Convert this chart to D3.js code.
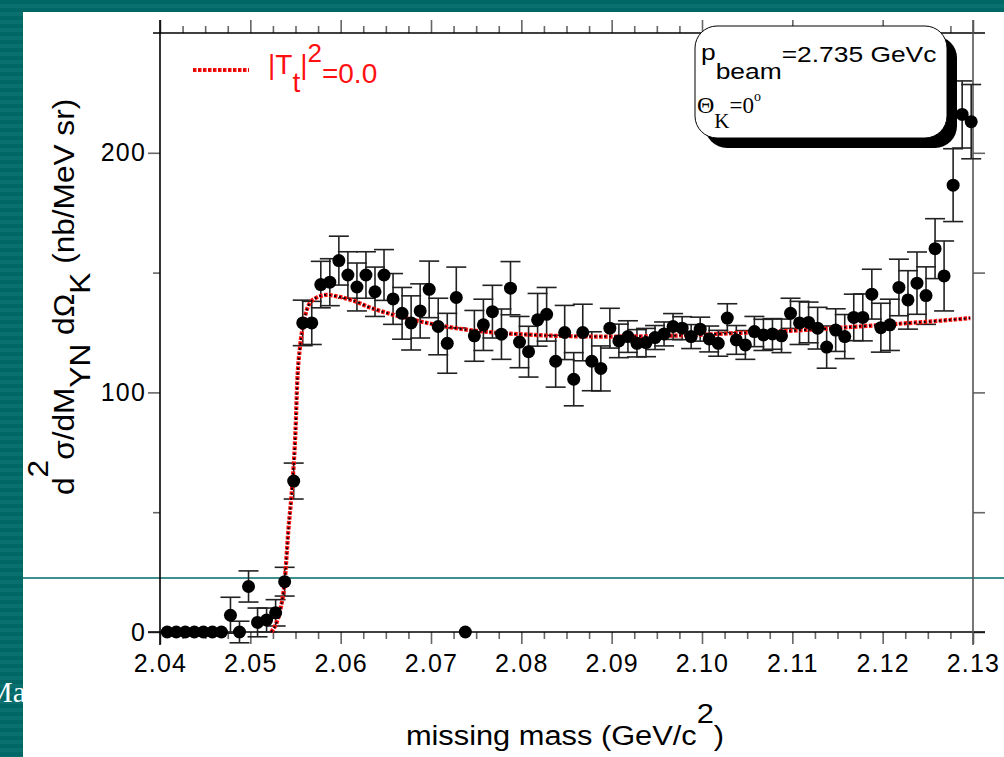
<!DOCTYPE html>
<html>
  <head>
    <script type="text/javascript" src="https://cdn.jsdelivr.net/npm/d3@7/dist/d3.min.js"></script>
    <style>
      body { margin: 0; background: #fff; }
      text { font-family: "Liberation Sans", Arial, sans-serif; }
    </style>
  </head>
  <body>
    <div id="viz"></div>
    <script type="text/javascript">
      // measured spectrum: bin centre (GeV/c2), cross section, error
      const mass = [
        2.0408, 2.0418, 2.0428, 2.0438, 2.0448, 2.0458, 2.0468, 2.0478, 2.0488, 2.0498,
        2.0508, 2.0518, 2.0528, 2.0538, 2.0548, 2.0558, 2.0568, 2.0578, 2.0588, 2.0598,
        2.0608, 2.0618, 2.0628, 2.0638, 2.0648, 2.0658, 2.0668, 2.0678, 2.0688, 2.0698,
        2.0708, 2.0718, 2.0728, 2.0738, 2.0748, 2.0758, 2.0768, 2.0778, 2.0788, 2.0798,
        2.0808, 2.0818, 2.0828, 2.0838, 2.0848, 2.0858, 2.0868, 2.0878, 2.0888, 2.0898,
        2.0908, 2.0918, 2.0928, 2.0938, 2.0948, 2.0958, 2.0968, 2.0978, 2.0988, 2.0998,
        2.1008, 2.1018, 2.1028, 2.1038, 2.1048, 2.1058, 2.1068, 2.1078, 2.1088, 2.1098,
        2.1108, 2.1118, 2.1128, 2.1138, 2.1148, 2.1158, 2.1168, 2.1178, 2.1188, 2.1198,
        2.1208, 2.1218, 2.1228, 2.1238, 2.1248, 2.1258, 2.1268, 2.1278, 2.1288, 2.1298
      ];
      const xsec = [
        0, 0, 0, 0, 0, 0, 0, 7, 0, 19,
        4, 5, 8, 21, 63, 129, 129, 145, 146, 155,
        149, 144, 149, 142, 149, 139, 133, 129, 134, 143,
        127.5, 120.5, 139.6, 0, 123.6, 128.2, 133.7, 124.3, 143.5, 121,
        117, 130.3, 132.6, 113, 125, 105.5, 125, 113, 110, 126.8,
        121.5, 123.3, 120.5, 120.8, 122.9, 124.4, 127.5, 126.8, 123.3, 126.4,
        122.3, 120.5, 131, 121.9, 119.8, 125.4, 124, 124.4, 123.6, 133,
        129, 129.2, 126.8, 118.9, 126, 123.3, 131.3, 131.3, 141, 127,
        128.2, 143.8, 138.6, 145.6, 140.4, 160, 148.6, 186.5, 216, 213
      ];
      const xsecErr = [
        0, 0, 0, 0, 0, 0, 0, 7.5, 4.5, 6.5,
        6, 5, 5.5, 6, 7.5, 9.5, 9, 9.7, 9.8, 10.2,
        9.7, 10, 9.7, 10.3, 10.6, 10.6, 10.8, 11.3, 11.3, 11.8,
        11.8, 12.5, 12.7, 0, 10.6, 10.7, 11, 10.5, 11.1, 10.7,
        10.6, 11, 11.2, 10.8, 11.3, 11.1, 11.8, 12.3, 9.4, 8.3,
        7, 6.6, 5.7, 5.9, 5, 5, 5.4, 4.8, 5, 5,
        5.4, 5.4, 6, 6, 6, 6.3, 6.5, 6.4, 7, 6.3,
        9, 8.5, 8.7, 8.8, 8.9, 9.2, 9.7, 9.8, 10.4, 10.2,
        10.7, 11.8, 12.2, 13, 12, 12.5, 14.6, 15.2, 14, 15.5
      ];

      // calculation, |Tt|^2 = 0.0
      const fitMass = [
        2.0523, 2.0528, 2.0533, 2.0538, 2.0542, 2.0547, 2.0550, 2.0552, 2.0555, 2.0559,
        2.0564, 2.0572, 2.0585, 2.0597, 2.0614, 2.0632, 2.0662, 2.0680, 2.0706, 2.0743,
        2.0780, 2.0813, 2.0887, 2.0961, 2.1053, 2.1097, 2.1153, 2.1208, 2.1263, 2.1297
      ];
      const fitValue = [
        0, 3, 9, 21, 42, 64, 84, 105, 119, 129,
        136, 139.3, 140.7, 140, 138.3, 135.5, 132, 130.3, 128.2, 126,
        124.7, 124, 123.3, 123.6, 125, 125.7, 127, 128.4, 129.9, 131
      ];

      const xMajor = [2.04, 2.05, 2.06, 2.07, 2.08, 2.09, 2.10, 2.11, 2.12, 2.13];
      const xLabels = ["2.04", "2.05", "2.06", "2.07", "2.08", "2.09", "2.10", "2.11", "2.12", "2.13"];
      const xMinor = [
        2.0425, 2.045, 2.0475, 2.0525, 2.055, 2.0575, 2.0625, 2.065, 2.0675,
        2.0725, 2.075, 2.0775, 2.0825, 2.085, 2.0875, 2.0925, 2.095, 2.0975,
        2.1025, 2.105, 2.1075, 2.1125, 2.115, 2.1175, 2.1225, 2.125, 2.1275
      ];
      const yMajor = [0, 100, 200];
      const yLabels = ["0", "100", "200"];
      const yMinor = [50, 150];

      const width = 1004, height = 757;
      const pLeft = 160, pRight = 973, pTop = 33, pBottom = 632;

      const svg = d3.select("#viz")
        .append("svg")
        .attr("width", width)
        .attr("height", height);

      // slide background
      const pat = svg.append("defs")
        .append("pattern")
        .attr("id", "stripes")
        .attr("patternUnits", "userSpaceOnUse")
        .attr("width", 8)
        .attr("height", 8);
      pat.append("rect").attr("width", 8).attr("height", 8).attr("fill", "#006767");
      pat.append("rect").attr("y", 4).attr("width", 8).attr("height", 4).attr("fill", "#0a6f6f");

      svg.append("rect").attr("width", width).attr("height", height).attr("fill", "url(#stripes)");
      svg.append("text")
        .attr("x", -14).attr("y", 702)
        .attr("fill", "#fff")
        .style("font-family", "'Liberation Serif', 'Times New Roman', serif")
        .style("font-size", "30px")
        .text("Ma");
      svg.append("rect").attr("x", 23).attr("y", 12).attr("width", width - 23).attr("height", height - 12).attr("fill", "#fff");
      svg.append("line")
        .attr("x1", 23).attr("x2", width).attr("y1", 578).attr("y2", 578)
        .attr("stroke", "#006a6a").attr("stroke-width", 1.3);

      const x = d3.scaleLinear().domain([2.04, 2.13]).range([pLeft, pRight]);
      const y = d3.scaleLinear().domain([0, 250]).range([pBottom, pTop]);

      function styleAxis(g){
        g.select(".domain").remove();
        g.selectAll(".tick line").attr("stroke", "#666").attr("stroke-width", 1.6);
        g.selectAll(".tick text")
          .attr("fill", "#000")
          .style("font-family", "'Liberation Sans', Arial, sans-serif")
          .style("font-size", "25px")
          .style("letter-spacing", "1.2px");
      }

      // bottom
      svg.append("g").attr("transform", "translate(0," + pBottom + ")")
        .call(d3.axisBottom(x).tickValues(xMinor).tickSize(7).tickFormat(""))
        .call(styleAxis);
      svg.append("g").attr("transform", "translate(0," + pBottom + ")")
        .call(d3.axisBottom(x).tickValues(xMajor).tickSize(12).tickPadding(10)
          .tickFormat((d, i) => xLabels[i]))
        .call(styleAxis);
      // top
      svg.append("g").attr("transform", "translate(0," + pTop + ")")
        .call(d3.axisTop(x).tickValues(xMinor).tickSize(7).tickFormat(""))
        .call(styleAxis);
      svg.append("g").attr("transform", "translate(0," + pTop + ")")
        .call(d3.axisTop(x).tickValues(xMajor).tickSize(13).tickFormat(""))
        .call(styleAxis);
      // left
      svg.append("g").attr("transform", "translate(" + pLeft + ",0)")
        .call(d3.axisLeft(y).tickValues(yMinor).tickSize(7).tickFormat(""))
        .call(styleAxis);
      svg.append("g").attr("transform", "translate(" + pLeft + ",0)")
        .call(d3.axisLeft(y).tickValues(yMajor).tickSize(12).tickPadding(2)
          .tickFormat((d, i) => yLabels[i]))
        .call(styleAxis);
      // right
      svg.append("g").attr("transform", "translate(" + pRight + ",0)")
        .call(d3.axisRight(y).tickValues(yMinor.concat(yMajor)).tickSize(12).tickFormat(""))
        .call(styleAxis);

      // frame
      const frame = svg.append("g").attr("stroke-width", 1.6);
      frame.append("line").attr("x1", pLeft - 7).attr("x2", pRight + 12).attr("y1", pTop).attr("y2", pTop).attr("stroke", "#000");
      frame.append("line").attr("x1", pLeft - 12).attr("x2", pRight + 12).attr("y1", pBottom).attr("y2", pBottom).attr("stroke", "#000");
      frame.append("line").attr("x1", pLeft).attr("x2", pLeft).attr("y1", pTop - 13).attr("y2", pBottom + 13).attr("stroke", "#000");
      frame.append("line").attr("x1", pRight).attr("x2", pRight).attr("y1", pTop - 13).attr("y2", pBottom + 13).attr("stroke", "#555");

      // error bars
      const pts = mass.map((m, i) => ({ m: m, v: xsec[i], e: xsecErr[i] }));
      const bars = svg.append("g")
        .selectAll("g.err")
        .data(pts.filter(d => d.e > 0))
        .enter()
        .append("g")
        .attr("class", "err")
        .attr("stroke", "#222")
        .attr("stroke-width", 1.6);
      bars.append("line")
        .attr("x1", d => x(d.m)).attr("x2", d => x(d.m))
        .attr("y1", d => y(d.v - d.e)).attr("y2", d => y(d.v + d.e));
      bars.append("line")
        .attr("x1", d => x(d.m) - 10).attr("x2", d => x(d.m) + 10)
        .attr("y1", d => y(d.v + d.e)).attr("y2", d => y(d.v + d.e));
      bars.append("line")
        .attr("x1", d => x(d.m) - 10).attr("x2", d => x(d.m) + 10)
        .attr("y1", d => y(d.v - d.e)).attr("y2", d => y(d.v - d.e));

      // calculated curve
      const fit = fitMass.map((m, i) => [m, fitValue[i]]);
      const line = d3.line()
        .x(d => x(d[0]))
        .y(d => y(d[1]))
        .curve(d3.curveMonotoneX);
      svg.append("path")
        .attr("d", line(fit))
        .attr("fill", "none")
        .attr("stroke", "#ff1010")
        .attr("stroke-width", 4.2)
        .attr("stroke-dasharray", "3.5,1.5");
      svg.append("path")
        .attr("d", line(fit))
        .attr("fill", "none")
        .attr("stroke", "#000")
        .attr("stroke-width", 2)
        .attr("stroke-dasharray", "2,3");

      // data points
      svg.append("g")
        .selectAll("circle")
        .data(pts)
        .enter()
        .append("circle")
        .attr("cx", d => x(d.m))
        .attr("cy", d => y(d.v))
        .attr("r", 6.5)
        .attr("fill", "#000");

      // legend
      svg.append("line")
        .attr("x1", 193).attr("x2", 249).attr("y1", 70).attr("y2", 70)
        .attr("stroke", "#ff1010").attr("stroke-width", 4).attr("stroke-dasharray", "3.5,1.5");
      svg.append("line")
        .attr("x1", 193).attr("x2", 249).attr("y1", 70).attr("y2", 70)
        .attr("stroke", "#900").attr("stroke-width", 1.2).attr("stroke-dasharray", "2,3");
      const leg = svg.append("text")
        .attr("x", 268).attr("y", 74)
        .attr("fill", "#ff1010")
        .style("font-size", "28px");
      leg.append("tspan").text("|T");
      leg.append("tspan").attr("dy", 18).text("t");
      leg.append("tspan").attr("dy", -18).text("|");
      leg.append("tspan").attr("dy", -12).style("font-size", "26px").text("2");
      leg.append("tspan").attr("dy", 21).text("=0.0");

      // info box
      svg.append("rect")
        .attr("x", 705).attr("y", 36).attr("width", 252).attr("height", 112)
        .attr("rx", 22).attr("fill", "#000");
      svg.append("rect")
        .attr("x", 695).attr("y", 26).attr("width", 252).attr("height", 112)
        .attr("rx", 22).attr("fill", "#fff").attr("stroke", "#000").attr("stroke-width", 1);
      const beam = svg.append("g")
        .attr("transform", "translate(701,0) scale(1.2,1)")
        .append("text")
        .attr("x", 0).attr("y", 60)
        .style("font-size", "22px");
      beam.append("tspan").text("p");
      beam.append("tspan").attr("dy", 19).text("beam");
      beam.append("tspan").attr("dy", -17).text("=2.735 GeVc");
      const theta = svg.append("text")
        .attr("x", 697).attr("y", 113)
        .style("font-family", "'Liberation Serif', 'Times New Roman', serif")
        .style("font-size", "24px");
      theta.append("tspan").text("\u0398");
      theta.append("tspan").attr("dy", 15).style("font-size", "21px").text("K");
      theta.append("tspan").attr("dy", -15).style("font-size", "23px").text("=0");
      theta.append("tspan").attr("dy", -12).style("font-size", "14px").text("o");

      // axis titles
      const xt = svg.append("g")
        .attr("transform", "translate(565,0) scale(1.1,1)")
        .append("text")
        .attr("x", 0).attr("y", 745)
        .attr("text-anchor", "middle")
        .style("font-size", "28px");
      xt.append("tspan").text("missing mass (GeV/c");
      xt.append("tspan").attr("dy", -22).text("2");
      xt.append("tspan").attr("dy", 22).text(")");

      const yt = svg.append("g")
        .attr("transform", "translate(74,495) rotate(-90) scale(1.09,1)")
        .append("text")
        .attr("x", 0).attr("y", 0)
        .style("font-size", "29px");
      yt.append("tspan").text("d");
      yt.append("tspan").attr("dy", -26).text("2");
      yt.append("tspan").attr("dy", 26).text("\u03c3/dM");
      yt.append("tspan").attr("dy", 16).text("YN");
      yt.append("tspan").attr("dy", -16).text(" d\u03a9");
      yt.append("tspan").attr("dy", 16).text("K");
      yt.append("tspan").attr("dy", -16).text(" (nb/MeV sr)");
    </script>
  </body>
</html>
